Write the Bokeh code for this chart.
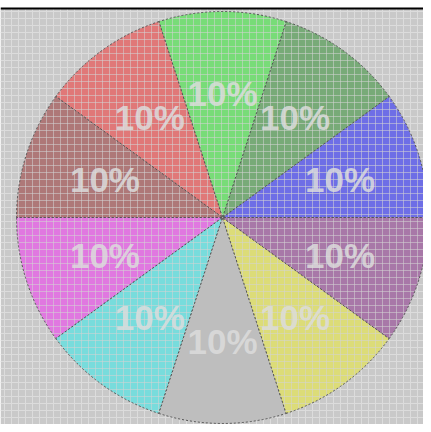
import numpy as np
from bokeh.plotting import figure
from bokeh.models import Range1d, Span, ColumnDataSource
from bokeh.core.properties import value
from bokeh.embed import file_html
from bokeh.resources import INLINE

# data
values = [10, 10, 10, 10, 10, 10, 10, 10, 10, 10]
labels = ["10%", "10%", "10%", "10%", "10%", "10%", "10%", "10%", "10%", "10%"]
colors = ["#6e6ee6", "#78aa78", "#78dc78", "#e07878", "#ae7878",
          "#e078e0", "#78dcdc", "#bebebe", "#dcdc78", "#a878a8"]
hatches = ["+", "+", "+", "+", "+", "+", "+", " ", "+", "+"]

W, H = 423, 424
TOP = 416          # top of the hatched panel (white band above)
cx, cy, R = 222, 207, 206

vals = np.array(values, dtype=float)
frac = vals / vals.sum()
ends = np.cumsum(frac) * 2 * np.pi
starts = ends - frac * 2 * np.pi
mids = (starts + ends) / 2
src = ColumnDataSource(dict(start=starts, end=ends, color=colors, hatch=hatches,
                            lx=cx + 0.6 * R * np.cos(mids), ly=cy + 0.6 * R * np.sin(mids),
                            label=labels))

p = figure(width=W, height=H, x_range=Range1d(0, W), y_range=Range1d(0, H),
           output_backend="svg", toolbar_location=None, min_border=0,
           x_axis_location=None, y_axis_location=None)
p.grid.visible = False
p.outline_line_color = None
p.background_fill_color = "white"
p.border_fill_color = "white"

p.quad(left=[0], right=[W], bottom=[0], top=[TOP], fill_color="#c9c9c9", line_color=None,
       hatch_pattern="+", hatch_color="#dcdcdc", hatch_scale=7, hatch_weight=1)

p.wedge(x=cx, y=cy, radius=R, start_angle="start", end_angle="end", source=src,
        fill_color="color", line_color="#555555", line_dash="2 2", line_width=1,
        hatch_pattern="hatch", hatch_color="#d4d4d4", hatch_alpha=0.55, hatch_scale=7,
        hatch_weight=1)

p.text(x="lx", y="ly", text="label", source=src, text_align="center",
       text_baseline="middle", text_font=value("Liberation Sans"),
       text_font_style="bold", text_font_size="35px", text_color="#dcdcdc",
       text_alpha=0.85)

p.add_layout(Span(location=TOP, dimension="width", line_color="black", line_width=2))

open("out.html", "w").write(file_html(p, INLINE))
